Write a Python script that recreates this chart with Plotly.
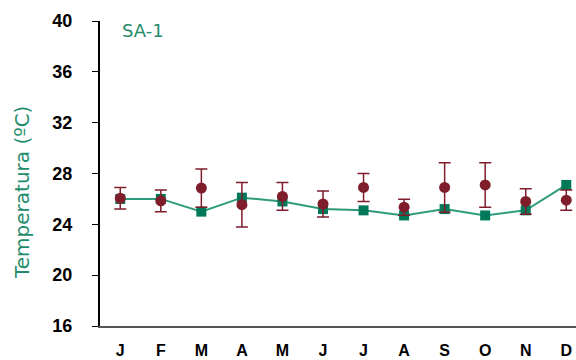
import plotly.graph_objects as go

months = ["J", "F", "M", "A", "M", "J", "J", "A", "S", "O", "N", "D"]
green_vals = [26.0, 26.0, 25.0, 26.1, 25.8, 25.2, 25.1, 24.7, 25.2, 24.7, 25.1, 27.1]
red_vals = [26.05, 25.85, 26.85, 25.55, 26.2, 25.6, 26.9, 25.35, 26.9, 27.1, 25.8, 25.9]
red_err = [0.85, 0.85, 1.5, 1.75, 1.1, 1.03, 1.1, 0.63, 1.95, 1.75, 1.0, 0.8]
y_ticks = [16, 20, 24, 28, 32, 36, 40]

x = list(range(len(months)))

fig = go.Figure()
fig.add_trace(go.Scatter(
    x=x, y=green_vals, mode="lines+markers",
    line=dict(color="#2E9B7C", width=2),
    marker=dict(symbol="square", size=10, color="#00795A"),
    showlegend=False, cliponaxis=False,
))
fig.add_trace(go.Scatter(
    x=x, y=red_vals, mode="markers",
    marker=dict(symbol="circle", size=11, color="#7F1D2B"),
    error_y=dict(type="data", array=red_err, visible=True,
                 color="#7F1D2B", thickness=1.5, width=6),
    showlegend=False, cliponaxis=False,
))

fig.add_annotation(x=0.042, y=1.01, xref="paper", yref="paper",
                   text="SA-1", showarrow=False, xanchor="left", yanchor="top",
                   font=dict(family="DejaVu Sans", size=18, color="#1F8C6C"))
fig.add_annotation(x=0, y=0.436, xref="paper", yref="paper", xshift=-78,
                   text="Temperatura (ºC)", showarrow=False, textangle=-90,
                   xanchor="center", yanchor="middle",
                   font=dict(family="DejaVu Sans", size=20, color="#1F8C6C"))

fig.update_layout(
    width=576, height=360,
    margin=dict(l=100, r=0, t=21, b=34, autoexpand=False),
    paper_bgcolor="white", plot_bgcolor="white",
    font=dict(family="Liberation Sans", color="black"),
)
fig.update_xaxes(
    range=[-0.5, 11.24], tickmode="array", tickvals=x, ticktext=months,
    showgrid=False, zeroline=False, showline=True, linecolor="#555555", linewidth=2,
    ticks="", tickfont=dict(family="Liberation Sans", size=16, color="black", weight="bold"),
    ticklabelstandoff=9, automargin=False,
)
fig.update_yaxes(
    range=[16, 40], tickmode="array", tickvals=y_ticks,
    showgrid=False, zeroline=False, showline=True, linecolor="black", linewidth=2,
    ticks="outside", ticklen=6, tickcolor="black",
    tickfont=dict(family="Liberation Sans", size=18, color="black", weight="bold"),
    ticklabelstandoff=16, automargin=False,
)

fig.write_html("out.html", config={"displayModeBar": False},
               post_script="document.body.style.margin='0';")
